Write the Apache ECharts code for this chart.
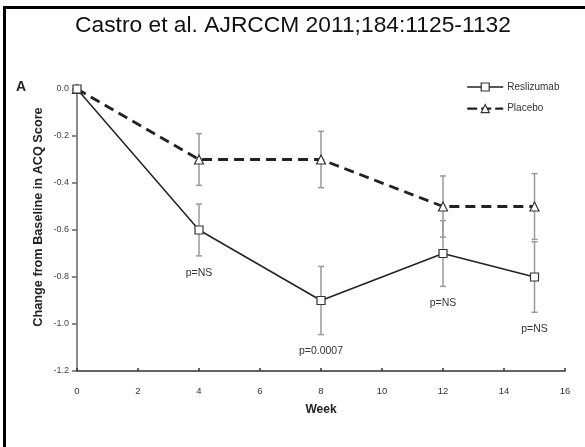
<!DOCTYPE html>
<html>
<head>
<meta charset="utf-8">
<script src="https://cdn.jsdelivr.net/npm/echarts@6/dist/echarts.min.js"></script>
<style>
html,body{margin:0;padding:0;background:#fff;}
#chart{width:585px;height:447px;}
</style>
</head>
<body>
<div id="chart"></div>
<script>
// ---- data ----
var weeks = [0, 4, 8, 12, 15];
var reslizumab = [0, -0.6, -0.9, -0.7, -0.8];
var reslizumabErr = [0, 0.11, 0.145, 0.14, 0.15];
var placebo = [0, -0.3, -0.3, -0.5, -0.5];
var placeboErr = [0, 0.11, 0.12, 0.13, 0.14];
var pValues = ['', 'p=NS', 'p=0.0007', 'p=NS', 'p=NS'];
var xTicks = [0, 2, 4, 6, 8, 10, 12, 14, 16];
var yTicks = [0, -0.2, -0.4, -0.6, -0.8, -1.0, -1.2];
var titleText = 'Castro et al. AJRCCM 2011;184:1125-1132';
var yAxisTitle = 'Change from Baseline in ACQ Score';
var xAxisTitle = 'Week';
var panelLetter = 'A';

var font = 'Liberation Sans, Arial, sans-serif';

function pairs(xs, ys) { return xs.map(function (x, i) { return [x, ys[i]]; }); }
function errData(xs, ys, es, labels) {
  return xs.map(function (x, i) { return [x, ys[i], es[i], labels ? labels[i] : '']; });
}

function errRender(params, api) {
  var x = api.value(0), y = api.value(1), e = api.value(2), lab = api.value(3);
  var children = [];
  if (e > 0) {
    var top = api.coord([x, y + e]);
    var bot = api.coord([x, y - e]);
    var st = { stroke: '#9a9a9a', lineWidth: 1.5 };
    children.push({ type: 'line', shape: { x1: top[0], y1: top[1], x2: bot[0], y2: bot[1] }, style: st });
    children.push({ type: 'line', shape: { x1: top[0] - 3, y1: top[1], x2: top[0] + 3, y2: top[1] }, style: st });
    children.push({ type: 'line', shape: { x1: bot[0] - 3, y1: bot[1], x2: bot[0] + 3, y2: bot[1] }, style: st });
    if (lab) {
      children.push({ type: 'text', x: bot[0], y: bot[1] + 17,
        style: { text: lab, fill: '#333', font: '10.5px ' + font, align: 'center', verticalAlign: 'middle' } });
    }
  }
  return { type: 'group', children: children };
}

var chart = echarts.init(document.getElementById('chart'), null, { renderer: 'canvas' });
chart.setOption({
  animation: false,
  backgroundColor: '#fff',
  grid: { left: 77, right: 20, top: 89, bottom: 76, containLabel: false },
  legend: {
    orient: 'vertical', left: 461, top: 77,
    itemWidth: 36, itemHeight: 10, itemGap: 11.6,
    textStyle: { fontFamily: font, fontSize: 10, color: '#333', padding: [0, 0, 0, -1] },
    data: [
      { name: 'Reslizumab',
        itemStyle: { color: '#fff', borderColor: '#333', borderWidth: 1.2 },
        lineStyle: { color: '#222', width: 1.3, type: 'solid' } },
      { name: 'Placebo',
        itemStyle: { color: '#fff', borderColor: '#333', borderWidth: 1.2 },
        lineStyle: { color: '#222', width: 2.4, type: [10, 4] } }
    ]
  },
  xAxis: {
    type: 'value', min: xTicks[0], max: xTicks[xTicks.length - 1], interval: 2,
    name: xAxisTitle, nameLocation: 'middle', nameGap: 33,
    nameTextStyle: { fontFamily: font, fontSize: 12, fontWeight: 'bold', color: '#222' },
    axisLine: { onZero: false, lineStyle: { color: '#333', width: 1.5 } },
    axisTick: { inside: true, length: 3, lineStyle: { color: '#333', width: 1.5 } },
    axisLabel: { margin: 15, fontFamily: font, fontSize: 9.5, color: '#333' },
    splitLine: { show: false }
  },
  yAxis: {
    type: 'value', min: yTicks[yTicks.length - 1], max: yTicks[0], interval: 0.2,
    axisLine: { show: true, onZero: false, lineStyle: { color: '#666', width: 1.5 } },
    axisTick: { show: true, inside: false, length: 5, lineStyle: { color: '#666', width: 1.5 } },
    axisLabel: { margin: 8, fontFamily: font, fontSize: 9, color: '#444',
      formatter: function (v) { return (Math.abs(v) < 1e-9 ? 0 : v).toFixed(1); } },
    splitLine: { show: false }
  },
  graphic: [
    { type: 'rect', shape: { x: 4.5, y: 7.5, width: 700, height: 600 }, style: { fill: 'none', stroke: '#000', lineWidth: 3 }, silent: true },
    { type: 'text', x: 293, y: 26, style: { text: titleText, font: '22.8px ' + font, fill: '#111', align: 'center', verticalAlign: 'middle' } },
    { type: 'text', x: 21, y: 87, style: { text: panelLetter, font: 'bold 14px ' + font, fill: '#222', align: 'center', verticalAlign: 'middle' } },
    { type: 'text', x: 38, y: 217, rotation: Math.PI / 2, style: { text: yAxisTitle, font: 'bold 12.7px ' + font, fill: '#222', align: 'center', verticalAlign: 'middle' } }
  ],
  series: [
    { name: 'errP', type: 'custom', renderItem: errRender, data: errData(weeks, placebo, placeboErr), z: 1, silent: true },
    { name: 'errR', type: 'custom', renderItem: errRender, data: errData(weeks, reslizumab, reslizumabErr, pValues), z: 1, silent: true },
    { name: 'Placebo', type: 'line', data: pairs(weeks, placebo), z: 3,
      symbol: 'triangle', symbolSize: 9, showAllSymbol: true,
      lineStyle: { color: '#222', width: 2.8, type: [10, 6] },
      itemStyle: { color: '#fff', borderColor: '#333', borderWidth: 1.2 } },
    { name: 'Reslizumab', type: 'line', data: pairs(weeks, reslizumab), z: 4,
      symbol: 'rect', symbolSize: 8, showAllSymbol: true,
      lineStyle: { color: '#222', width: 1.5 },
      itemStyle: { color: '#fff', borderColor: '#333', borderWidth: 1.2 } }
  ]
});
</script>
</body>
</html>
